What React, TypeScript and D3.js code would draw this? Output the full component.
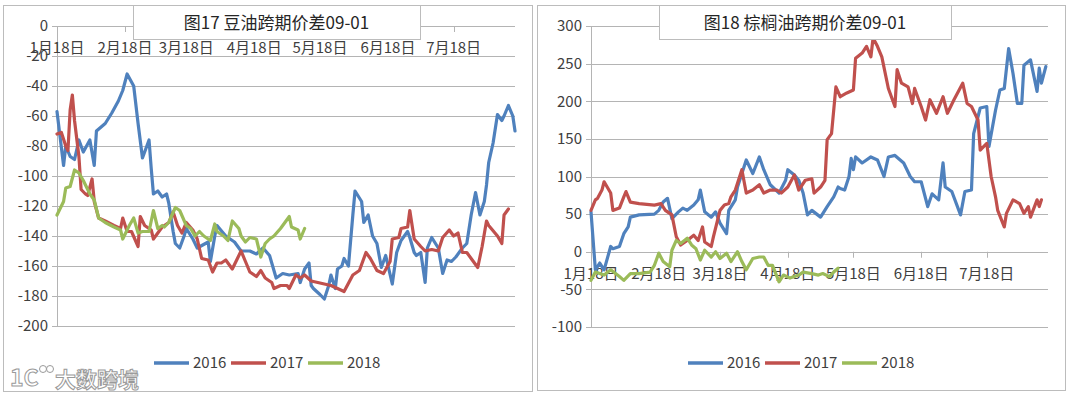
import React from 'react';
import * as d3 from 'd3';

// x axis categories (ticks on the 18th of each month)
const tickLabels = ['1月18日', '2月18日', '3月18日', '4月18日', '5月18日', '6月18日', '7月18日'];
const years = ['2016', '2017', '2018'];
const colors = ['#4F81BD', '#C0504D', '#9BBB59'];

// [days after Jan 18, spread]  - 豆油 09-01
const soy2016 = [[0,-57],[3,-93],[4,-80],[6,-87],[8,-89],[10,-76],[12,-84],[15,-76],[17,-93],[18,-70],[22,-65],[25,-58],[28,-50],[30,-43],[32,-32],[35,-40],[37,-65],[39,-88],[41,-80],[42,-76],[43,-95],[44,-112],[46,-110],[48,-114],[50,-112],[51,-118],[53,-137],[54,-145],[56,-148],[58,-140],[59,-135],[62,-142],[64,-148],[69,-144],[70,-157],[72,-140],[73,-133],[77,-140],[81,-144],[84,-150],[88,-150],[91,-152],[94,-148],[97,-153],[99,-163],[100,-168],[103,-165],[106,-166],[110,-165],[111,-171],[113,-162],[115,-158],[116,-173],[117,-175],[120,-179],[122,-182],[124,-173],[125,-166],[127,-175],[128,-162],[130,-160],[131,-155],[133,-160],[135,-126],[136,-110],[139,-117],[140,-131],[142,-126],[144,-140],[146,-145],[148,-161],[150,-153],[153,-172],[155,-151],[157,-143],[160,-137],[161,-141],[163,-151],[164,-153],[166,-151],[168,-171],[169,-148],[171,-141],[174,-148],[176,-165],[178,-156],[180,-157],[182,-154],[185,-148],[187,-145],[189,-126],[191,-111],[193,-126],[195,-117],[196,-106],[197,-91],[199,-78],[201,-59],[203,-63],[204,-60],[206,-53],[208,-60],[209,-70]];
const soy2017 = [[0,-72],[2,-71],[4,-80],[5,-83],[6,-56],[7,-46],[8,-63],[10,-87],[11,-109],[13,-112],[14,-113],[16,-102],[17,-117],[19,-128],[22,-130],[26,-133],[29,-135],[30,-128],[32,-137],[34,-137],[37,-147],[38,-127],[40,-133],[43,-136],[44,-142],[46,-138],[48,-134],[51,-131],[53,-124],[55,-133],[57,-138],[59,-131],[62,-136],[64,-142],[66,-155],[69,-156],[71,-164],[73,-158],[75,-158],[77,-156],[80,-162],[82,-156],[84,-150],[86,-157],[88,-164],[91,-167],[93,-163],[95,-168],[98,-171],[99,-175],[102,-173],[105,-173],[106,-175],[109,-166],[111,-168],[113,-166],[116,-170],[119,-171],[122,-172],[125,-173],[128,-175],[131,-177],[135,-166],[138,-163],[141,-151],[143,-155],[146,-163],[149,-165],[152,-157],[153,-142],[156,-141],[157,-135],[160,-134],[161,-123],[163,-142],[166,-147],[168,-150],[171,-149],[174,-150],[176,-141],[179,-136],[181,-140],[183,-138],[185,-151],[187,-151],[190,-157],[192,-161],[194,-147],[196,-130],[197,-133],[201,-140],[203,-145],[204,-126],[206,-122]];
const soy2018 = [[0,-126],[3,-117],[4,-108],[6,-107],[8,-96],[10,-98],[12,-103],[15,-112],[17,-116],[19,-128],[22,-131],[26,-134],[29,-136],[30,-142],[33,-133],[35,-128],[37,-138],[39,-137],[42,-137],[44,-123],[46,-135],[48,-133],[49,-134],[51,-131],[54,-121],[56,-123],[59,-133],[61,-135],[63,-140],[65,-137],[67,-140],[70,-143],[72,-132],[73,-137],[76,-140],[78,-143],[80,-130],[83,-135],[84,-140],[86,-144],[88,-141],[91,-142],[93,-154],[95,-145],[97,-142],[99,-140],[102,-135],[104,-131],[106,-127],[107,-134],[110,-136],[111,-142],[113,-135]];

// 棕榈油 09-01
const palm2016 = [[0,53],[2,-24],[4,-15],[6,-24],[9,7],[10,4],[13,7],[15,24],[17,33],[18,46],[22,49],[29,50],[31,55],[33,66],[35,71],[37,44],[40,53],[42,58],[44,55],[47,62],[49,69],[50,82],[52,53],[55,46],[57,53],[59,38],[62,24],[63,55],[66,69],[67,86],[70,113],[71,122],[74,104],[77,126],[79,109],[82,89],[86,78],[89,95],[90,109],[93,102],[95,95],[97,78],[99,49],[101,55],[105,46],[108,60],[111,73],[113,86],[114,84],[116,82],[118,100],[119,124],[120,109],[121,126],[124,118],[128,126],[131,122],[134,100],[136,126],[139,128],[143,118],[146,100],[148,93],[151,93],[154,60],[156,77],[159,69],[161,118],[162,86],[165,80],[169,49],[171,80],[174,82],[175,157],[178,191],[181,193],[182,140],[185,188],[187,215],[189,217],[191,270],[193,237],[195,197],[197,197],[198,248],[201,255],[204,213],[205,244],[206,224],[208,246]];
const palm2017 = [[0,55],[2,69],[3,71],[5,82],[6,93],[9,78],[10,55],[13,58],[15,73],[16,80],[18,66],[22,64],[29,62],[32,64],[34,55],[37,49],[39,20],[41,9],[44,15],[47,22],[49,15],[51,33],[52,13],[55,7],[56,20],[59,55],[61,62],[63,64],[64,73],[66,82],[69,109],[71,78],[74,82],[77,89],[79,78],[82,82],[85,82],[87,78],[90,86],[93,102],[95,82],[98,95],[101,97],[102,78],[105,86],[107,95],[108,149],[110,157],[112,219],[114,206],[117,211],[120,215],[121,257],[124,264],[126,273],[128,259],[129,284],[131,273],[133,259],[136,217],[139,193],[140,242],[142,224],[145,219],[147,197],[148,217],[151,193],[153,175],[155,202],[158,184],[161,206],[163,184],[166,202],[170,224],[172,197],[174,193],[177,175],[178,135],[181,144],[183,100],[185,73],[186,55],[189,33],[190,51],[193,69],[196,64],[198,51],[200,60],[201,46],[204,69],[205,60],[206,69]];
const palm2018 = [[0,-38],[2,-27],[6,-31],[9,-24],[13,-33],[15,-38],[18,-29],[22,-29],[27,-27],[29,-18],[31,-2],[33,-13],[36,-20],[37,2],[39,15],[41,11],[44,18],[46,9],[48,4],[50,-11],[52,2],[55,-7],[57,0],[59,-9],[62,-2],[64,-13],[67,0],[69,-13],[71,-24],[74,-9],[77,-7],[79,-7],[81,-18],[83,-18],[86,-40],[88,-31],[91,-35],[95,-31],[97,-27],[101,-29],[104,-31],[106,-29],[109,-33],[111,-27],[113,-22]];

const FONT = '"Noto Sans CJK SC", "Open Sans", sans-serif';
const start = new Date(2017, 0, 18);
const end = new Date(2017, 7, 15);

const Panel = ({ box, title, titleBox, x0, x1, yDomain, yRange, yStep, legendX, series, watermark }) => {
    const x = d3.scaleTime().domain([start, end]).range([x0, x1]);
    const y = d3.scaleLinear().domain(yDomain).range(yRange);
    const yTicks = d3.range(yDomain[0], yDomain[1] + 1, yStep);
    const tickDates = tickLabels.map((_, i) => new Date(2017, i, 18));
    const line = d3.line()
        .x(d => x(d3.timeDay.offset(start, d[0])))
        .y(d => y(d[1]));
    const y0 = y(0);
    const grid = '#b4b4b4';

    return (
        <g>
            <rect x={box[0] + 0.5} y={box[1] + 0.5} width={box[2] - box[0]} height={box[3] - box[1]} fill="#fff" stroke="#bcbcbc" />
            {/* gridlines + y labels */}
            {yTicks.map(t => (
                <g key={t}>
                    <line x1={x0 - 5} x2={x1} y1={Math.round(y(t)) + 0.5} y2={Math.round(y(t)) + 0.5} stroke={grid} />
                    <text x={x0 - 9} y={y(t)} dy="0.35em" textAnchor="end" fontSize={15} fill="#404040" fontFamily={FONT}>{t}</text>
                </g>
            ))}
            <line x1={x0 + 0.5} x2={x0 + 0.5} y1={yRange[1]} y2={yRange[0]} stroke={grid} />
            {/* x axis at zero */}
            {tickDates.map((d, i) => (
                <g key={i}>
                    <line x1={Math.round(x(d)) + 0.5} x2={Math.round(x(d)) + 0.5} y1={y0} y2={y0 + 6} stroke={grid} />
                    <text x={x(d)} y={y0 + 22} dy="0.35em" textAnchor="middle" fontSize={15} fill="#404040" fontFamily={FONT}>{tickLabels[i]}</text>
                </g>
            ))}
            {series.map((s, i) => (
                <path key={i} d={line(s)} fill="none" stroke={colors[i]} strokeWidth={3.2} strokeLinejoin="round" strokeLinecap="round" />
            ))}
            <rect x={titleBox[0] + 0.5} y={box[1] + 0.5} width={titleBox[1] - titleBox[0]} height={34} fill="#fff" stroke="#bcbcbc" />
            <text x={(titleBox[0] + titleBox[1]) / 2} y={box[1] + 18} dy="0.35em" textAnchor="middle" fontSize={17} fill="#262626" fontFamily={FONT}>{title}</text>
            {years.map((yr, i) => (
                <g key={yr} transform={`translate(${legendX + i * 77},363)`}>
                    <line x1={0} x2={35} y1={0} y2={0} stroke={colors[i]} strokeWidth={3.5} />
                    <text x={39} y={0} dy="0.35em" fontSize={15} fill="#404040" fontFamily={FONT}>{yr}</text>
                </g>
            ))}
            {watermark && (
                <g fill="#fff" stroke="#9a9a9a" strokeWidth={1}>
                    <text x={10} y={386} fontSize={23} fontWeight="bold" fontFamily={FONT}>1C</text>
                    <circle cx={43} cy={369} r={3.5} />
                    <circle cx={50} cy={369} r={3.5} />
                    <text x={55} y={387} fontSize={21} fontWeight="bold" fontFamily={FONT}>大数跨境</text>
                </g>
            )}
        </g>
    );
};

export default function App() {
    return (
        <div style={{ position: 'absolute', left: 0, top: 0 }}>
            <svg width={1080} height={398} style={{ display: 'block', background: '#fff' }}>
                <Panel
                    box={[3, 5, 532, 391]}
                    title="图17 豆油跨期价差09-01"
                    titleBox={[133, 420]}
                    x0={57} x1={515}
                    yDomain={[-200, 0]} yRange={[326, 26]} yStep={20}
                    legendX={154}
                    series={[soy2016, soy2017, soy2018]}
                    watermark
                />
                <Panel
                    box={[537, 5, 1065, 390]}
                    title="图18 棕榈油跨期价差09-01"
                    titleBox={[659, 951]}
                    x0={591} x1={1048}
                    yDomain={[-100, 300]} yRange={[327, 26]} yStep={50}
                    legendX={688}
                    series={[palm2016, palm2017, palm2018]}
                />
            </svg>
        </div>
    );
}
